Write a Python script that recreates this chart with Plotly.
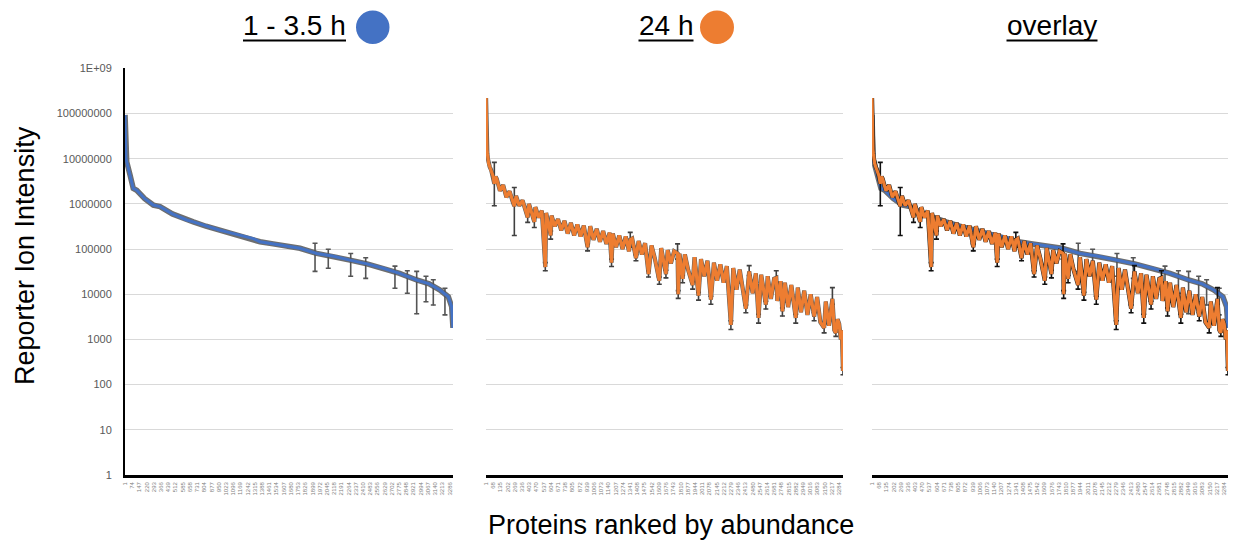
import plotly.graph_objects as go

# ---------------- data ----------------
N_PROTEINS = 3320

blue_rank = [1, 2, 3, 5, 10, 18, 51, 84, 119, 200, 287, 355, 480, 625, 692, 820, 962, 1030,
             1160, 1299, 1367, 1500, 1637, 1772, 1941, 2100, 2278, 2450, 2615, 2780,
             2953, 3080, 3189, 3273, 3307, 3317, 3320]
blue_val = [9.3e7, 5.0e7, 3.0e7, 1.5e7, 1.0e7, 8.5e6, 4.4e6, 2.2e6, 2.0e6, 1.3e6, 9.4e5, 8.7e5,
            6.0e5, 4.4e5, 4.0e5, 3.2e5, 2.6e5, 2.4e5, 2.0e5, 1.7e5, 1.45e5, 1.3e5, 1.13e5, 1.04e5,
            8.0e4, 7.0e4, 5.7e4, 4.7e4, 3.75e4, 2.9e4, 2.07e4, 1.7e4, 1.24e4, 8.8e3, 5.3e3, 3.0e3, 1.8e3]

blue_bar_rank = [1924, 2058, 2285, 2437, 2733, 2858, 2953, 3047, 3121, 3239]
blue_bar_lo = [3.2e4, 3.75e4, 2.5e4, 2.25e4, 1.36e4, 1.05e4, 3.7e3, 6.8e3, 5.8e3, 3.5e3]
blue_bar_hi = [1.34e5, 9.9e4, 8.0e4, 6.4e4, 4.2e4, 3.3e4, 3.2e4, 2.5e4, 2.1e4, 1.36e4]

orange_rank = [1, 2, 3, 4, 6, 9, 13, 18, 25, 35, 50, 65, 78, 90, 100, 130, 160, 190, 220, 250,
               264, 280, 310, 340, 370, 388, 400, 430, 450, 460, 490, 520, 552, 560, 580, 602,
               610, 640, 670, 700, 730, 760, 790, 820, 850, 880, 910, 945, 970, 1000, 1030, 1060,
               1090, 1120, 1150, 1168, 1180, 1210, 1240, 1270, 1300, 1330, 1342, 1360, 1395, 1420,
               1450, 1480, 1512, 1540, 1570, 1612, 1630, 1674, 1690, 1720, 1750, 1782, 1788, 1800,
               1829, 1850, 1880, 1922, 1940, 1977, 2000, 2030, 2060, 2092, 2120, 2150, 2180, 2210,
               2240, 2278, 2300, 2330, 2360, 2390, 2417, 2448, 2480, 2510, 2535, 2560, 2603, 2620,
               2650, 2680, 2700, 2710, 2740, 2757, 2780, 2810, 2840, 2881, 2900, 2930, 2960, 2990,
               3020, 3052, 3080, 3110, 3145, 3160, 3190, 3222, 3240, 3254, 3270, 3285, 3300, 3310,
               3320]
orange_val = [2.2e8, 1.2e8, 4.3e7, 2.6e7, 2.0e7, 1.6e7, 1.3e7, 1.0e7, 7.9e6, 6.6e6, 5.5e6, 4.2e6,
              2.8e6, 4.0e6, 3.6e6, 1.95e6, 2.6e6, 1.4e6, 1.9e6, 1.1e6, 8.9e5, 1.5e6, 9.1e5, 1.2e6,
              7.1e5, 5.0e5, 1.0e6, 6.0e5, 4.0e5, 8.5e5, 5.0e5, 7.1e5, 4.0e4, 6.3e5, 3.8e5, 2.0e5,
              5.5e5, 3.2e5, 4.6e5, 2.6e5, 4.2e5, 2.2e5, 3.8e5, 2.0e5, 3.5e5, 1.9e5, 3.3e5, 1.1e5,
              3.2e5, 1.6e5, 2.8e5, 1.45e5, 2.5e5, 1.3e5, 2.3e5, 5.0e4, 2.2e5, 1.1e5, 2.0e5, 1.0e5,
              1.9e5, 8.9e4, 1.6e5, 1.7e5, 6.3e4, 1.5e5, 7.6e4, 1.35e5, 2.8e4, 1.2e5, 6.3e4, 2.0e4,
              1.05e5, 2.8e4, 9.5e4, 4.8e4, 8.9e4, 8.0e4, 1.0e4, 7.9e4, 2.2e4, 7.6e4, 3.5e4, 1.6e4,
              6.6e4, 9.3e3, 6.0e4, 2.5e4, 5.5e4, 7.6e3, 5.0e4, 2.0e4, 4.6e4, 1.8e4, 4.2e4, 2.1e3,
              3.8e4, 1.26e4, 3.5e4, 1.2e4, 4.8e3, 3.2e4, 1.05e4, 2.9e4, 3.0e3, 2.7e4, 5.9e3, 2.5e4,
              7.9e3, 2.2e4, 2.3e4, 7.1e3, 1.95e4, 4.2e3, 1.8e4, 5.2e3, 1.6e4, 3.0e3, 1.4e4, 4.0e3,
              1.2e4, 3.5e3, 1.0e4, 3.2e3, 8.7e3, 2.4e3, 1.8e3, 6.9e3, 2.0e3, 7.9e3, 1.6e3, 1.4e3,
              2.8e3, 2.2e3, 1.0e3, 1.6e3, 2.0e2]

orange_bar_rank = [78, 264, 388, 450, 552, 602, 945, 1168, 1342, 1395, 1512, 1612, 1674, 1782,
                   1788, 1829, 1922, 1977, 2092, 2278, 2417, 2448, 2535, 2603, 2700, 2757, 2881,
                   3052, 3145, 3222, 3254, 3320]
orange_bar_lo = [9.1e5, 2.0e5, 3.9e5, 3.0e5, 3.3e4, 1.66e5, 9.1e4, 4.1e4, 1.1e5, 5.5e4, 2.4e4,
                 1.66e4, 2.3e4, 6.0e4, 8.1e3, 1.8e4, 1.3e4, 7.4e3, 6.0e3, 1.66e3, 3.9e3, 2.6e4,
                 2.3e3, 4.7e3, 1.8e4, 3.3e3, 2.3e3, 2.6e3, 1.4e3, 6.0e3, 1.17e3, 1.65e2]
orange_bar_hi = [8.3e6, 2.3e6, 6.0e5, 5.0e5, 5.0e4, 2.5e5, 1.3e5, 6.0e4, 2.34e5, 7.5e4, 3.3e4,
                 2.4e4, 3.4e4, 1.3e5, 1.2e4, 2.6e4, 1.9e4, 1.1e4, 9.0e3, 2.6e3, 5.8e3, 4.3e4,
                 3.6e3, 7.0e3, 3.3e4, 5.0e3, 3.6e3, 3.9e3, 2.2e3, 1.4e4, 1.7e3, 2.4e2]

ticks_early = list(range(1, 3287, 73))   # 1, 74, 147, ... 3286
ticks_late = list(range(1, 3285, 67))    # 1, 68, 135, ... 3284
y_tickvals = [1, 10, 100, 1000, 10000, 100000, 1000000, 10000000, 100000000, 1000000000]
y_ticktext = ["1", "10", "100", "1000", "10000", "100000", "1000000", "10000000",
              "100000000", "1E+09"]
panel_titles = ["1 - 3.5 h", "24 h", "overlay"]

# ---------------- styling ----------------
W, H = 1233, 542
BLUE = "#4472C4"
ORANGE = "#ED7D31"
FONT = "Liberation Sans, Arial, sans-serif"


def px(x):
    return x / W


def py(y):
    return 1 - y / H


fig = go.Figure()


def add_series(rank, val, bar_rank, bar_lo, bar_hi, color, width, fringe_color,
               fringe_width, bar_color, xa, ya):
    fig.add_trace(go.Scatter(x=rank, y=val, mode="lines", xaxis=xa, yaxis=ya,
                             line=dict(color=fringe_color, width=fringe_width),
                             hoverinfo="skip", showlegend=False))
    fig.add_trace(go.Scatter(
        x=bar_rank, y=bar_lo, mode="markers", xaxis=xa, yaxis=ya,
        marker=dict(size=1, color=bar_color),
        error_y=dict(type="data", symmetric=False,
                     array=[h - l for h, l in zip(bar_hi, bar_lo)],
                     arrayminus=[0] * len(bar_lo),
                     color=bar_color, thickness=1.6, width=2.5),
        hoverinfo="skip", showlegend=False))
    fig.add_trace(go.Scatter(x=rank, y=val, mode="lines", xaxis=xa, yaxis=ya,
                             line=dict(color=color, width=width),
                             showlegend=False))


# panel 1: blue
add_series(blue_rank, blue_val, blue_bar_rank, blue_bar_lo, blue_bar_hi,
           BLUE, 3, "#6e6e6e", 5.5, "#555555", "x", "y")
# panel 2: orange
add_series(orange_rank, orange_val, orange_bar_rank, orange_bar_lo, orange_bar_hi,
           ORANGE, 3.2, "#5a5a5a", 4.2, "#404040", "x2", "y2")
# panel 3: overlay
add_series(blue_rank, blue_val, blue_bar_rank, blue_bar_lo, blue_bar_hi,
           BLUE, 3, "#6e6e6e", 5.5, "#555555", "x3", "y3")
add_series(orange_rank, orange_val, orange_bar_rank, orange_bar_lo, orange_bar_hi,
           ORANGE, 3.2, "#222222", 4.2, "#111111", "x3", "y3")

x_domains = [[px(125), px(453)], [px(486), px(843)], [px(872), px(1228)]]
y_domain = [py(475), py(68.3)]
tick_sets = [ticks_early, ticks_late, ticks_late]

layout = dict(
    width=W, height=H, margin=dict(l=0, r=0, t=0, b=0, autoexpand=False),
    paper_bgcolor="white", plot_bgcolor="white",
    font=dict(family=FONT, color="black"),
    showlegend=False,
)
for i in range(3):
    sfx = "" if i == 0 else str(i + 1)
    layout["xaxis" + sfx] = dict(
        domain=x_domains[i], range=[0.5, N_PROTEINS + 0.5], type="linear",
        anchor="y" + sfx, showgrid=False, zeroline=False, automargin=False,
        showline=True, linecolor="black", linewidth=2.5,
        tickmode="array", tickvals=tick_sets[i], ticktext=[str(t) for t in tick_sets[i]],
        tickangle=-90, tickfont=dict(size=6, color="#808080", family=FONT),
        ticks="", ticklabelstandoff=2,
    )
    layout["yaxis" + sfx] = dict(
        domain=y_domain, type="log", range=[0, 9], anchor="x" + sfx, automargin=False,
        showgrid=True, gridcolor="#d9d9d9", gridwidth=1, zeroline=False,
        tickmode="array", tickvals=y_tickvals, ticktext=y_ticktext,
        tickfont=dict(size=11, color="#595959", family=FONT),
        ticks="", showticklabels=(i == 0),
        showline=(i == 0), linecolor="black", linewidth=2,
        ticklabelstandoff=9,
    )
fig.update_layout(**layout)

# panel titles (underlined) and colour dots
title_centers = [294.5, 666, 1052]
title_widths = [103, 55, 91]
annotations = []
shapes = []
for t, cx, tw in zip(panel_titles, title_centers, title_widths):
    annotations.append(dict(text=t, x=px(cx), y=py(25), xref="paper", yref="paper",
                            xanchor="center", yanchor="middle", showarrow=False,
                            font=dict(size=28, color="black", family=FONT)))
    shapes.append(dict(type="line", xref="paper", yref="paper",
                       x0=px(cx - tw / 2), x1=px(cx + tw / 2), y0=py(40.5), y1=py(40.5),
                       line=dict(color="black", width=2)))
shapes.append(dict(type="circle", xref="paper", yref="paper",
                   x0=px(356), x1=px(389.5), y0=py(44), y1=py(10.5),
                   fillcolor=BLUE, line=dict(width=0)))
shapes.append(dict(type="circle", xref="paper", yref="paper",
                   x0=px(700), x1=px(734), y0=py(44), y1=py(10.5),
                   fillcolor=ORANGE, line=dict(width=0)))

annotations.append(dict(text="Reporter Ion Intensity", x=px(25), y=py(256),
                        xref="paper", yref="paper", textangle=-90, showarrow=False,
                        xanchor="center", yanchor="middle",
                        font=dict(size=27, color="black", family=FONT)))
annotations.append(dict(text="Proteins ranked by abundance", x=px(671), y=py(525),
                        xref="paper", yref="paper", showarrow=False,
                        xanchor="center", yanchor="middle",
                        font=dict(size=27, color="black", family=FONT)))
fig.update_layout(annotations=annotations, shapes=shapes)

# remove the default 8px page margin so the figure sits at the window origin
fig.write_html("out.html",
               config={"displayModeBar": False},
               post_script="document.body.style.margin='0';document.body.style.overflow='hidden';")
